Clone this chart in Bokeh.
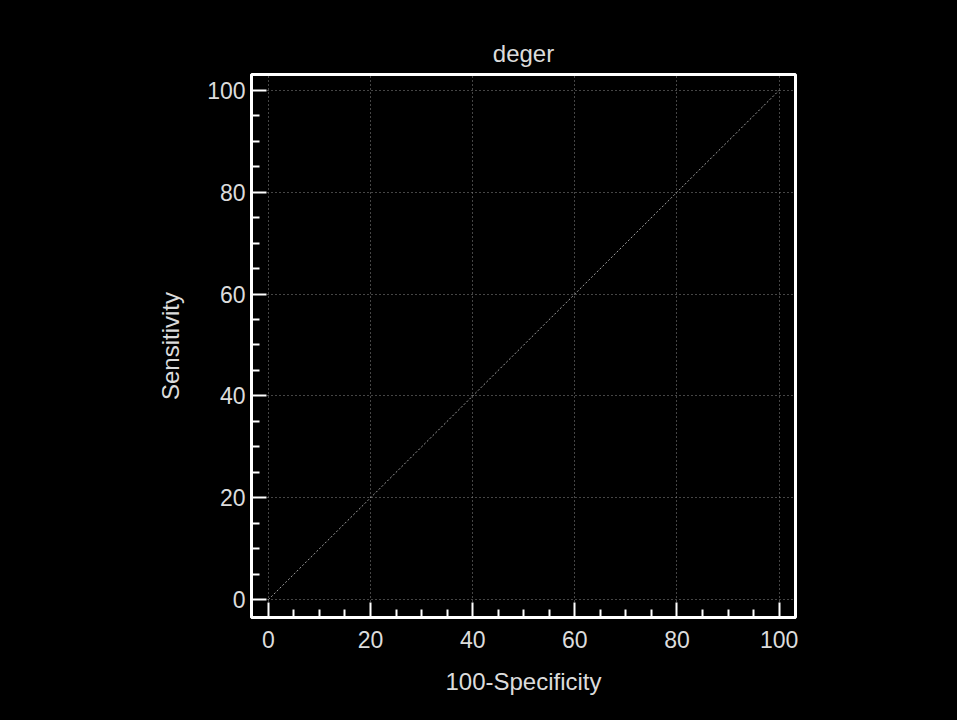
from bokeh.plotting import figure
from bokeh.models import Range1d, FixedTicker, GlobalInlineStyleSheet
from bokeh.embed import file_html
from bokeh.resources import INLINE

# Data
title_text = "deger"
x_label = "100-Specificity"
y_label = "Sensitivity"
major_ticks = [0, 20, 40, 60, 80, 100]
minor_ticks = [5, 10, 15, 25, 30, 35, 45, 50, 55, 65, 70, 75, 85, 90, 95]
diag_x = [0, 100]
diag_y = [0, 100]

FONT = "Liberation Sans"
TXT = "#dcdcdc"

p = figure(width=957, height=720, output_backend="svg", toolbar_location=None,
           x_range=Range1d(-3.3, 103.2), y_range=Range1d(-3.5, 103.1),
           min_border_left=251, min_border_right=162,
           min_border_top=74, min_border_bottom=103,
           background_fill_color="black", border_fill_color="black")
p.stylesheets = [GlobalInlineStyleSheet(css="html, body { background: #000 !important; }")]

p.title.text = title_text
p.title.align = "center"
p.title.text_color = TXT
p.title.text_font = FONT
p.title.text_font_size = "24px"
p.title.text_font_style = "normal"
p.title.standoff = 16

p.outline_line_color = "white"
p.outline_line_width = 3
p.outline_line_alpha = 1

for ax in (p.xaxis[0], p.yaxis[0]):
    ax.ticker = FixedTicker(ticks=major_ticks, minor_ticks=minor_ticks)
    ax.axis_line_color = "white"
    ax.axis_line_width = 3
    ax.major_tick_line_color = "white"
    ax.major_tick_line_width = 2
    ax.minor_tick_line_color = "white"
    ax.minor_tick_line_width = 2
    ax.major_tick_in = 15
    ax.major_tick_out = 0
    ax.minor_tick_in = 8
    ax.minor_tick_out = 0
    ax.major_label_text_color = TXT
    ax.major_label_text_font = FONT
    ax.major_label_text_font_size = "23px"
    ax.axis_label_text_color = TXT
    ax.axis_label_text_font = FONT
    ax.axis_label_text_font_size = "24px"
    ax.axis_label_text_font_style = "normal"

p.xaxis.axis_label = x_label
p.yaxis.axis_label = y_label
p.xaxis.major_label_standoff = 13
p.yaxis.major_label_standoff = 6
p.xaxis.axis_label_standoff = 17
p.yaxis.axis_label_standoff = 20

p.xgrid.ticker = FixedTicker(ticks=major_ticks)
p.ygrid.ticker = FixedTicker(ticks=major_ticks)
for g in (p.xgrid[0], p.ygrid[0]):
    g.grid_line_color = "#8a8a8a"
    g.grid_line_width = 1
    g.grid_line_dash = "1 3"

p.line(diag_x, diag_y, line_color="#a0a0a0", line_width=1, line_dash="2 2")

open("out.html", "w").write(file_html(p, INLINE))
